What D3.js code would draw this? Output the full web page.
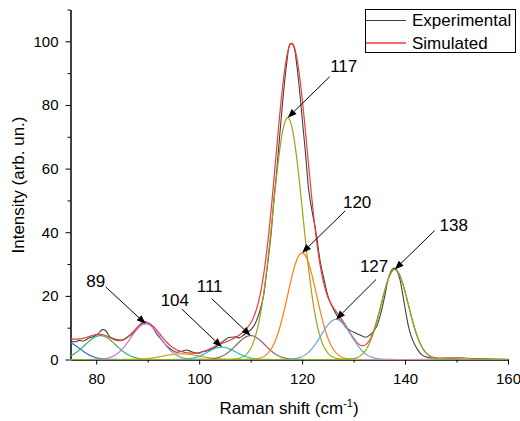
<!DOCTYPE html>
<html><head><meta charset="utf-8">
<script src="https://cdn.jsdelivr.net/npm/d3@7"></script>
<style>
body{margin:0;background:#fff}
svg{display:block}
text{font-family:"Liberation Sans",Arial,sans-serif;fill:#000}
</style>
</head><body>
<svg id="c" width="520" height="421"></svg>
<script>
// ---- Data ----
// Fitted Gaussian components (center in cm^-1, amplitude, width sigma)
const peakCenters = [74.0, 80.8, 89.6, 96.5, 104.4, 110.0, 117.2, 120.0, 126.6, 149.0, 138.0];
const peakAmps    = [5.6,  7.5,  11.2, 1.8,  3.9,   7.5,   76.0,  33.5,  12.6,  0.5,   28.3];
const peakWidths  = [2.8,  3.0,  2.9,  3.5,  2.7,   2.8,   2.9,   2.8,   2.9,   2.5,   2.65];

// Experimental spectrum
const expX = [75,76,76.7,77.5,78.7,79.5,80.3,81.2,81.8,82.6,83.4,84.2,85,85.8,86.6,87.4,88.4,89.2,89.7,90.7,91.4,92,93,93.6,94.5,95.5,96.5,97.5,98.2,98.8,100,100.7,101.3,102.3,103.3,104.1,104.9,105.7,106.5,107.2,107.8,108.6,109.4,110.1,110.7,111.2,111.7,112.5,113,114,114.5,115,116,117,117.7,118.3,119,120,120.7,121.3,122,122.7,123.5,124.3,125.1,125.9,127,128,128.5,129.5,130.3,131.1,132.4,133.4,134.4,135.2,136,136.9,137.7,138.3,138.9,139.6,140.2,140.8,141.5,142.4,143.4,144.5,146,148,150,152,155,160];
const expY = [5.7,5.6,6.0,5.8,6.8,7.2,8.0,9.4,9.1,7.2,6.5,6.2,6.1,6.8,7.6,8.6,10.7,12.0,11.8,10.7,9.0,7.5,5.6,4.4,3.2,2.3,2.5,3.0,2.7,2.3,2.0,2.5,2.6,3.2,4.0,5.0,6.0,6.9,7.0,7.1,6.8,7.6,8.6,9.5,10.7,12.5,14.8,20,26,40,50,58,77,93,99.3,98.6,92,76,64,53,46,40,31,24.8,19.5,16.4,13.2,11.2,10.1,9.0,8.4,7.8,7.0,8.0,10.1,14,19.5,26.3,28.7,28.2,25.8,20,14.3,9.5,6,3.2,1.3,0.6,0.3,0.4,0.5,0.4,0.2,0.1];

const xTicks = [80, 100, 120, 140, 160];
const xMinor = [90, 110, 130, 150];
const yTicks = [0, 20, 40, 60, 80, 100];
const yMinor = [10, 30, 50, 70, 90, 110];

const seriesNames = ["Experimental", "Simulated"];
const annoLabels = ["89", "104", "111", "117", "120", "127", "138"];
const annoPeak   = [2, 4, 5, 6, 7, 8, 10];   // index into peak arrays

// ---- Styles / layout ----
const compColors = ["#2f6fdc","#3cb06a","#b07ee0","#d6a21a","#1fc6cf","#95675c","#a2a212","#ff7f10","#6ea4dc","#c89898","#82b01e"];
const expColor = "#404040", simColor = "#ee3b3b";
// arrow start offset and text center offset relative to arrow tip (px)
const annoStart = [[-40,-37],[-40,-38],[-39,-37],[42,-41],[43,-42],[40,-40],[40,-39]];
const annoText  = [[-50,-42],[-47,-47],[-41,-49],[56,-51],[55,-50],[38,-53],[59,-44]];

const svg = d3.select("#c");
const x = d3.scaleLinear().domain([75, 160]).range([70.5, 508]);
const y = d3.scaleLinear().domain([0, 110]).range([359.5, 9.5]);

// axes
const gx = svg.append("g").attr("transform", "translate(0,359.5)");
gx.call(d3.axisBottom(x).tickValues(xTicks).tickSize(5).tickSizeOuter(0).tickPadding(8.5).tickFormat(d3.format("d")));
const gxm = svg.append("g").attr("transform", "translate(0,359.5)");
gxm.call(d3.axisBottom(x).tickValues(xMinor).tickSize(3).tickSizeOuter(0).tickFormat(""));
const gy = svg.append("g").attr("transform", "translate(70.5,0)");
gy.call(d3.axisLeft(y).tickValues(yTicks).tickSize(5).tickSizeOuter(0).tickPadding(7).tickFormat(d3.format("d")));
const gym = svg.append("g").attr("transform", "translate(70.5,0)");
gym.call(d3.axisLeft(y).tickValues(yMinor).tickSize(3).tickSizeOuter(0).tickFormat(""));
svg.selectAll(".domain").attr("stroke", "#000").attr("stroke-width", 1);
svg.selectAll(".tick line").attr("stroke", "#000");
svg.selectAll(".tick text").attr("font-size", 15).attr("font-family", '"Liberation Sans",Arial,sans-serif');

// titles
const xt = svg.append("text").attr("x", 289).attr("y", 414).attr("text-anchor", "middle").attr("font-size", 17);
xt.append("tspan").text("Raman shift (cm");
xt.append("tspan").attr("font-size", 11).attr("dy", -7).text("-1");
xt.append("tspan").attr("dy", 7).text(")");
svg.append("text").attr("transform", "translate(24,185) rotate(-90)")
  .attr("text-anchor", "middle").attr("font-size", 17).text("Intensity (arb. un.)");

// curves
const grid = d3.range(75, 160.001, 0.1);
const gauss = (i, v) => peakAmps[i] * Math.exp(-((v - peakCenters[i]) ** 2) / (2 * peakWidths[i] ** 2));
const line = d3.line().x(d => x(d[0])).y(d => y(d[1]));

const expPts = expX.map((v, i) => [v, expY[i]]);
svg.append("path").attr("d", line.curve(d3.curveCatmullRom.alpha(0.5))(expPts))
  .attr("fill", "none").attr("stroke", expColor).attr("stroke-width", 1.1);

const simPts = grid.map(v => [v, d3.sum(peakCenters, (c, i) => gauss(i, v))]);
svg.append("path").attr("d", line.curve(d3.curveLinear)(simPts))
  .attr("fill", "none").attr("stroke", simColor).attr("stroke-width", 1.2);

peakCenters.forEach((c, i) => {
  const pts = grid.map(v => [v, gauss(i, v)]);
  svg.append("path").attr("d", line.curve(d3.curveLinear)(pts))
    .attr("fill", "none").attr("stroke", compColors[i]).attr("stroke-width", 1.2);
});

// annotations
annoLabels.forEach((lab, k) => {
  const p = annoPeak[k];
  const tx = x(peakCenters[p]), ty = y(peakAmps[p]);
  const sx = tx + annoStart[k][0], sy = ty + annoStart[k][1];
  const ang = Math.atan2(ty - sy, tx - sx);
  const L = 9, Wd = 3.5;
  const bx = tx - L * Math.cos(ang), by = ty - L * Math.sin(ang);
  svg.append("line").attr("x1", sx).attr("y1", sy).attr("x2", bx).attr("y2", by)
    .attr("stroke", "#000").attr("stroke-width", 1);
  const px = -Math.sin(ang), py = Math.cos(ang);
  svg.append("polygon").attr("points",
    `${tx},${ty} ${bx + px * Wd},${by + py * Wd} ${bx - px * Wd},${by - py * Wd}`).attr("fill", "#000");
  svg.append("text").attr("x", tx + annoText[k][0]).attr("y", ty + annoText[k][1])
    .attr("text-anchor", "middle").attr("dominant-baseline", "central").attr("font-size", 17).text(lab);
});

// legend
const lg = svg.append("g");
lg.append("rect").attr("x", 365.5).attr("y", 9.5).attr("width", 150).attr("height", 43)
  .attr("fill", "#fff").attr("stroke", "#000").attr("stroke-width", 1);
const legColors = [expColor, simColor];
seriesNames.forEach((n, i) => {
  const ly = 20.5 + i * 22.5;
  lg.append("line").attr("x1", 366).attr("x2", 406).attr("y1", ly).attr("y2", ly)
    .attr("stroke", legColors[i]).attr("stroke-width", i ? 1.6 : 1.1);
  lg.append("text").attr("x", 412).attr("y", ly).attr("dominant-baseline", "central")
    .attr("font-size", 17).text(n);
});
</script>
</body></html>
